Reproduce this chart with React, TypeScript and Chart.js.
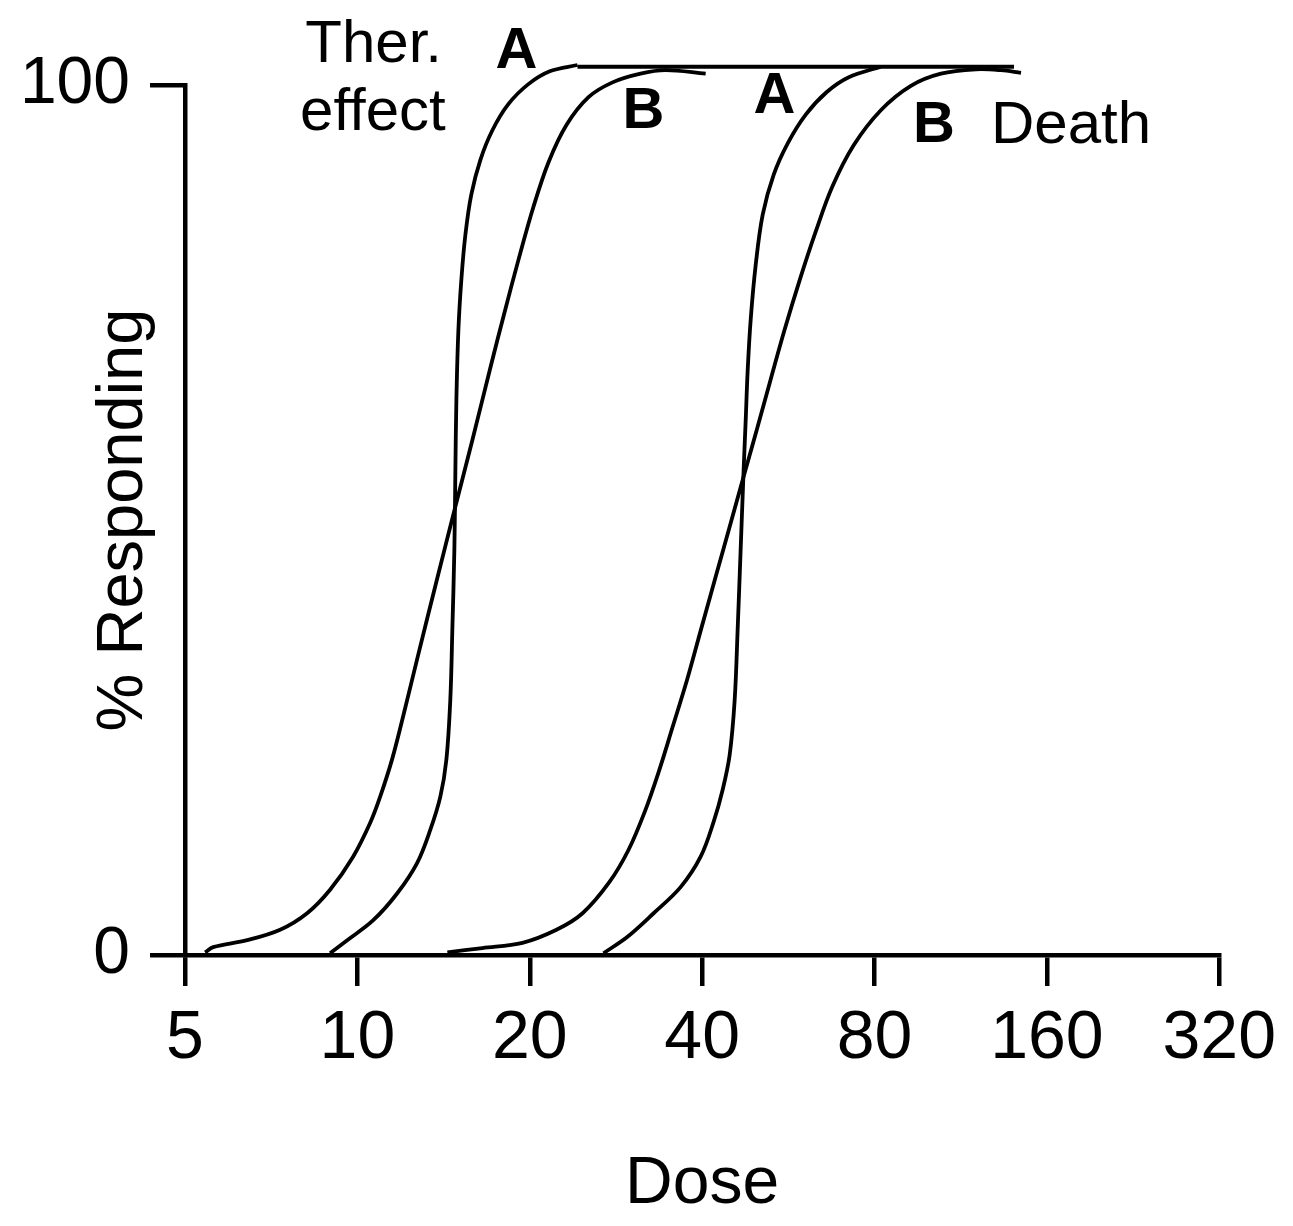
import React, { useEffect, useRef } from "react";
import { Chart, registerables } from "chart.js";

Chart.register(...registerables);

const FONT = "'Liberation Sans', Arial, Helvetica, sans-serif";

// Axis ticks
const xTicks = [5, 10, 20, 40, 80, 160, 320];
const xTickLabels = ["5", "10", "20", "40", "80", "160", "320"];
const yTicks = [0, 100];
const yTickLabels = ["0", "100"];

// Therapeutic effect, drug A (steep)
const therADose = [8.96, 9.6, 10.66, 11.74, 12.72, 13.41, 13.96, 14.3, 14.53, 14.65, 14.77, 14.83, 14.89, 15.01, 15.19, 15.44, 15.81, 16.4, 17.21, 18.35, 19.89, 21.73, 24.23];
const therAPct = [0.2, 1.7, 4.0, 7.1, 10.6, 14.4, 18.2, 22.4, 29.3, 37.4, 46.6, 55.7, 63.8, 71.8, 77.6, 82.8, 87.4, 91.4, 94.8, 97.8, 100.1, 101.6, 102.3];

// Therapeutic effect, drug B (shallow)
const therBDose = [5.42, 5.6, 6.42, 7.33, 8.17, 8.96, 9.83, 10.53, 10.96, 11.51, 12.12, 12.77, 13.74, 14.77, 15.88, 17.07, 18.06, 19.11, 20.3, 21.56, 23.18, 25.33, 27.9, 31.22, 34.53, 40.57];
const therBPct = [0.3, 0.9, 1.7, 2.9, 4.8, 7.5, 11.3, 15.2, 18.2, 22.6, 28.4, 34.5, 42.9, 51.1, 59.2, 67.5, 73.8, 79.9, 86.0, 91.1, 95.4, 98.6, 100.3, 101.3, 101.7, 101.3];

// Death, drug A (steep)
const deathADose = [26.9, 29.63, 32.91, 36.68, 39.76, 41.89, 43.44, 44.68, 45.59, 46.14, 46.7, 47.26, 47.66, 48.04, 48.62, 49.61, 51.03, 53.34, 56.43, 60.67, 66.03, 72.14, 82.06];
const deathAPct = [0.2, 2.1, 4.8, 7.8, 11.3, 15.3, 19.0, 23.0, 29.3, 37.4, 46.6, 55.7, 61.5, 67.2, 73.0, 79.3, 85.1, 89.7, 93.3, 96.6, 99.2, 100.9, 102.1];

// Death, drug B (shallow)
const deathBDose = [14.36, 16.53, 19.42, 22.27, 24.73, 27.56, 29.76, 31.73, 33.57, 35.52, 37.64, 39.81, 42.33, 45.02, 47.08, 49.79, 52.66, 55.69, 59.23, 63.04, 67.5, 73.61, 82.06, 92.59, 104.48, 120.29, 133.04, 144.18];
const deathBPct = [0.3, 0.8, 1.4, 2.9, 4.8, 8.4, 12.1, 16.4, 21.0, 26.2, 31.6, 37.4, 43.7, 50.0, 54.6, 60.3, 66.1, 71.8, 77.6, 83.0, 88.3, 93.1, 97.1, 99.9, 101.3, 101.8, 101.7, 101.4];

// Plateau line joining the curve tops
const ceilingDose = [24.23, 140.18];
const ceilingPct = [102.1, 102.1];

// Text labels placed on the plot (dose, percent of baseline)
const labelTexts = ["Ther.", "effect", "A", "B", "A", "B", "Death"];
const labelDoses = [8.11, 7.94, 17.42, 29.05, 49.2, 93.4, 127.8];
const labelPcts = [102.6, 94.8, 102.0, 95.1, 96.8, 93.4, 93.3];
const labelBold = [false, false, true, true, true, true, false];

const toPoints = (xs: number[], ys: number[]) => xs.map((x, i) => ({ x, y: ys[i] }));

const labelPlugin = {
  id: "curveLabels",
  afterDraw(chart: any) {
    const { ctx } = chart;
    const xs = chart.scales.x;
    const ys = chart.scales.y;
    ctx.save();
    ctx.fillStyle = "#000";
    ctx.textAlign = "left";
    ctx.textBaseline = "alphabetic";
    labelTexts.forEach((t, i) => {
      ctx.font = labelBold[i] ? `bold 58px ${FONT}` : `60px ${FONT}`;
      ctx.fillText(t, xs.getPixelForValue(labelDoses[i]), ys.getPixelForValue(labelPcts[i]));
    });
    ctx.restore();
  },
};

export default function App() {
  const ref = useRef<HTMLCanvasElement | null>(null);

  useEffect(() => {
    if (!ref.current) return;
    const lineStyle = {
      showLine: true,
      borderColor: "#000",
      backgroundColor: "#000",
      borderWidth: 3.8,
      pointRadius: 0,
      tension: 0.35,
      fill: false,
      clip: false as any,
    };
    const chart = new Chart(ref.current, {
      type: "scatter",
      data: {
        datasets: [
          { label: "Ther. effect A", data: toPoints(therADose, therAPct), ...lineStyle },
          { label: "Ther. effect B", data: toPoints(therBDose, therBPct), ...lineStyle },
          { label: "Death A", data: toPoints(deathADose, deathAPct), ...lineStyle },
          { label: "Death B", data: toPoints(deathBDose, deathBPct), ...lineStyle },
          { label: "Plateau", data: toPoints(ceilingDose, ceilingPct), ...lineStyle, tension: 0 },
        ],
      },
      options: {
        animation: false,
        responsive: false,
        devicePixelRatio: 1,
        layout: { padding: { top: 77, left: 0, right: 62, bottom: 0 } },
        plugins: {
          legend: { display: false },
          tooltip: { enabled: false },
        },
        scales: {
          x: {
            type: "logarithmic",
            min: 5,
            max: 320,
            afterBuildTicks: (scale: any) => {
              scale.ticks = xTicks.map((v) => ({ value: v }));
            },
            afterFit: (scale: any) => {
              scale.height = 263;
            },
            ticks: {
              autoSkip: false,
              maxRotation: 0,
              minRotation: 0,
              padding: 9,
              color: "#000",
              font: { family: FONT, size: 68, lineHeight: 1.3 },
              callback: (_v: any, i: number) => xTickLabels[i],
            },
            grid: {
              display: true,
              drawOnChartArea: false,
              drawTicks: true,
              tickLength: 31,
              color: "#000",
              lineWidth: 4.5,
            },
            border: { display: true, color: "#000", width: 4.5 },
            title: {
              display: true,
              text: "Dose",
              color: "#000",
              font: { family: FONT, size: 66, lineHeight: 1 },
              padding: { top: 0, bottom: 0 },
            },
          },
          y: {
            type: "linear",
            min: 0,
            max: 100,
            afterBuildTicks: (scale: any) => {
              scale.ticks = yTicks.map((v) => ({ value: v }));
            },
            afterFit: (scale: any) => {
              scale.width = 177;
            },
            ticks: {
              padding: 20,
              color: "#000",
              font: { family: FONT, size: 66 },
              callback: (_v: any, i: number) => yTickLabels[i],
            },
            grid: {
              display: true,
              drawOnChartArea: false,
              drawTicks: true,
              tickLength: 35,
              color: "#000",
              lineWidth: 4.5,
            },
            border: { display: true, color: "#000", width: 4.5 },
            title: {
              display: true,
              text: "% Responding",
              color: "#000",
              font: { family: FONT, size: 65, lineHeight: 1 },
              padding: { top: 84, bottom: 0 },
            },
          },
        },
      },
      plugins: [labelPlugin],
    } as any);
    return () => chart.destroy();
  }, []);

  return (
    <canvas
      ref={ref}
      width={1277}
      height={1210}
      style={{ display: "block", width: 1277, height: 1210 }}
    />
  );
}
